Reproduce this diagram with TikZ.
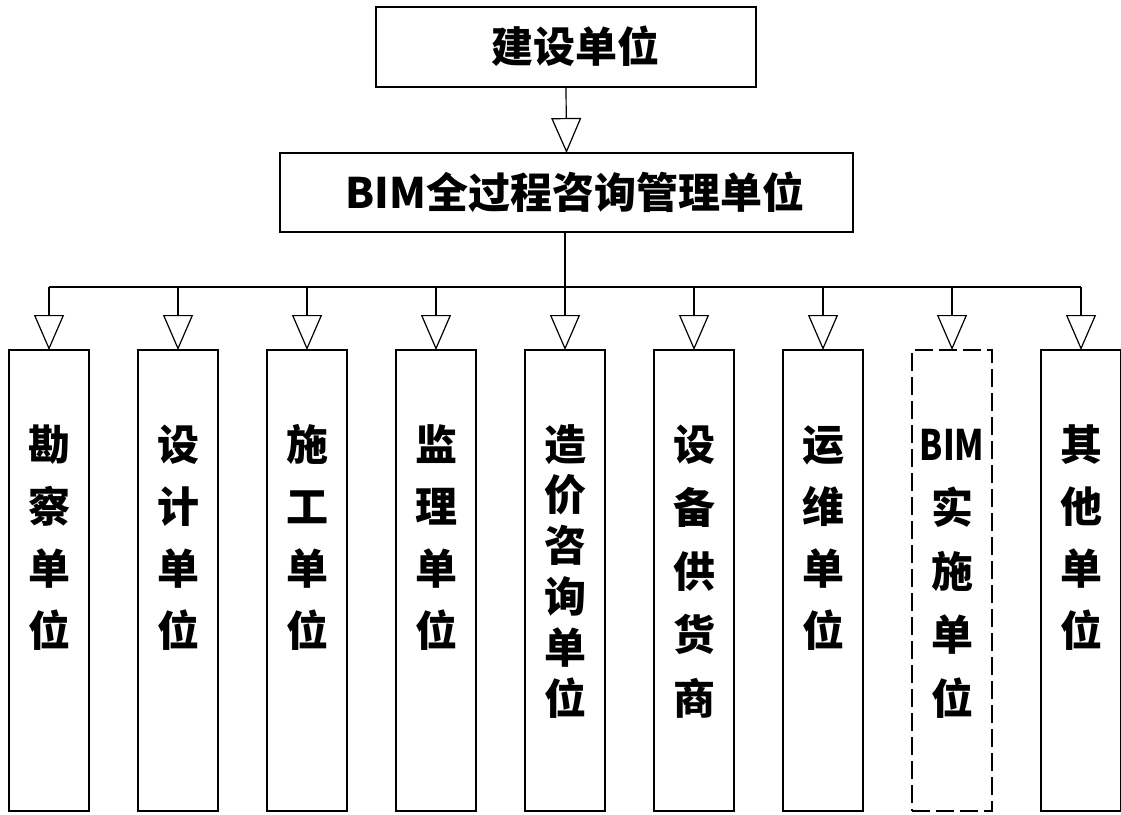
\documentclass[tikz,border=0pt]{standalone}
\usepackage{fontspec}
\setmainfont{Noto Sans CJK SC}
\usetikzlibrary{arrows.meta}
\tikzset{
  box/.style={draw, line width=1.2pt, inner sep=0pt, outer sep=0pt},
  lbl/.style={font=\fontsize{42}{42}\selectfont\bfseries, inner sep=0pt, anchor=base},
  conn/.style={line width=1.2pt},
  arr/.style={line width=1.2pt, -{Triangle[open,length=35pt,width=30pt]}},
  dashedbox/.style={dash pattern=on 18pt off 6pt}
}
\begin{document}
\begin{tikzpicture}[x=1pt,y=-1pt]
\useasboundingbox (0,0) rectangle (1121,814);
% top boxes
\node[box, minimum width=380pt, minimum height=80pt] (top) at (566,47) {};
\node[lbl] (toptxt) at (575,62) {建设单位};
\node[box, minimum width=573pt, minimum height=79pt] (mid) at (566.5,192.5) {};
\node[lbl] (midtxt) at (575,208) {BIM全过程咨询管理单位};
\draw[arr] (top.south) -- (mid.north);
% children
\foreach \i in {1,...,9} {
  \coordinate (b\i) at ({49+129*(\i-1)},287);
}
\foreach \i in {1,...,7,9} {
  \node[box, minimum width=80pt, minimum height=461pt] (c\i) at ({49+129*(\i-1)},580.5) {};
}
\node[box, dashedbox, minimum width=80pt, minimum height=461pt] (c8) at ({49+129*7},580.5) {};
\coordinate (trunk) at (b5 |- mid.south);
\draw[conn] (trunk) -- (b5);
\draw[conn] (b1) -- (b9);
\foreach \i in {1,...,9} {
  \draw[arr] (b\i) -- (c\i.north);
}
% labels
\foreach \i/\chars/\p in {
  1/{勘,察,单,位}/62,
  2/{设,计,单,位}/62,
  3/{施,工,单,位}/62,
  4/{监,理,单,位}/62,
  5/{造,价,咨,询,单,位}/50.8,
  6/{设,备,供,货,商}/63.5,
  7/{运,维,单,位}/62,
  8/{\scalebox{0.8}[1]{BIM},实,施,单,位}/63.5,
  9/{其,他,单,位}/62} {
  \foreach \c [count=\k from 0] in \chars {
    \node[lbl] (t\i-\k) at ({49+129*(\i-1)},{460+\p*\k}) {\c};
  }
}
\end{tikzpicture}
\end{document}
